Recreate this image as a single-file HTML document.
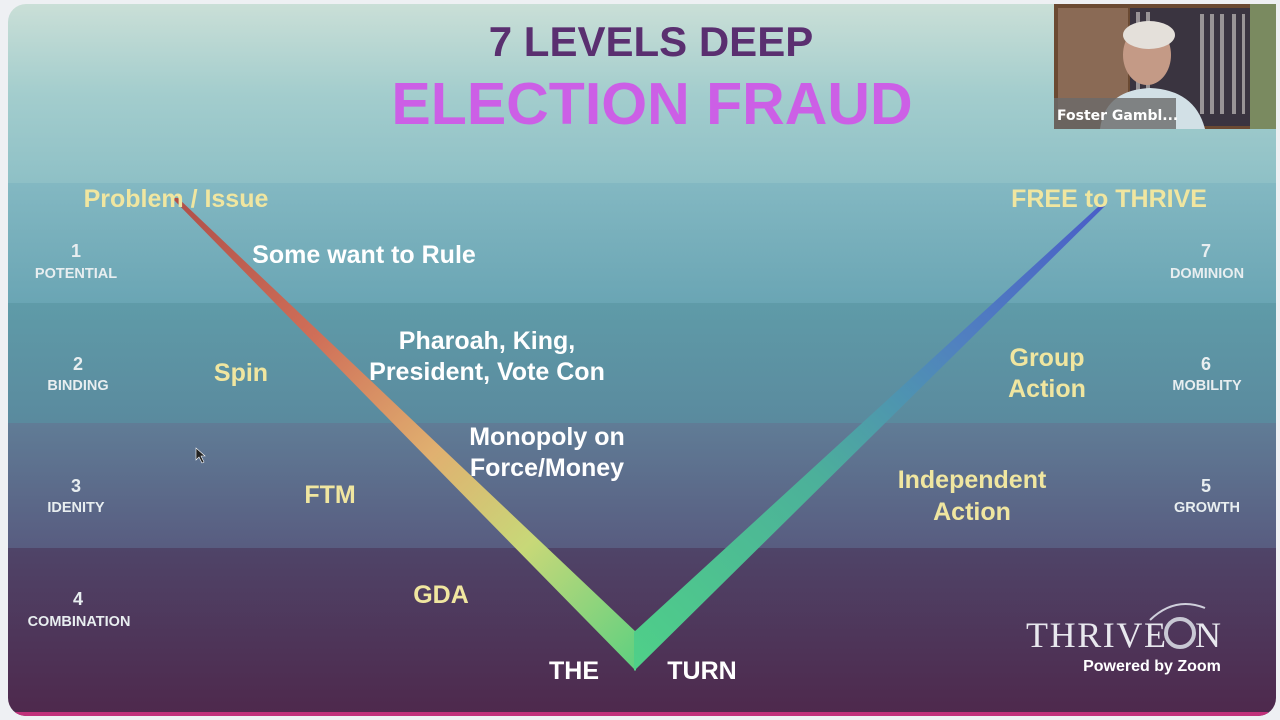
<!DOCTYPE html>
<html><head><meta charset="utf-8"><style>
html,body{margin:0;padding:0;width:1280px;height:720px;overflow:hidden;background:#eef0f3;font-family:"Liberation Sans",sans-serif;}
</style></head><body>
<svg width="1280" height="720" xmlns="http://www.w3.org/2000/svg" style="position:absolute;left:0;top:0">
<defs>
<linearGradient id="b0" x1="0" y1="0" x2="0" y2="1"><stop offset="0" stop-color="#cadfd7"/><stop offset="0.5" stop-color="#a3cdcd"/><stop offset="1" stop-color="#8ec0c6"/></linearGradient>
<linearGradient id="b1" x1="0" y1="0" x2="0" y2="1"><stop offset="0" stop-color="#83b8c2"/><stop offset="1" stop-color="#6aa5b4"/></linearGradient>
<linearGradient id="b2" x1="0" y1="0" x2="0" y2="1"><stop offset="0" stop-color="#5f9ba8"/><stop offset="1" stop-color="#5a8a9e"/></linearGradient>
<linearGradient id="b3" x1="0" y1="0" x2="0" y2="1"><stop offset="0" stop-color="#607c96"/><stop offset="1" stop-color="#585c80"/></linearGradient>
<linearGradient id="b4" x1="0" y1="0" x2="0" y2="1"><stop offset="0" stop-color="#4f4468"/><stop offset="1" stop-color="#4e284c"/></linearGradient>
<linearGradient id="gl" gradientUnits="userSpaceOnUse" x1="175" y1="198" x2="635" y2="670"><stop offset="0" stop-color="#b0504a"/><stop offset="0.3" stop-color="#cf6f58"/><stop offset="0.55" stop-color="#e0b070"/><stop offset="0.75" stop-color="#c8d878"/><stop offset="1" stop-color="#5ed080"/></linearGradient>
<linearGradient id="gr" gradientUnits="userSpaceOnUse" x1="635" y1="670" x2="1103" y2="205"><stop offset="0" stop-color="#4fd088"/><stop offset="0.4" stop-color="#4cb09a"/><stop offset="0.7" stop-color="#5080c0"/><stop offset="1" stop-color="#4a5ec8"/></linearGradient>
<clipPath id="c"><rect x="8" y="4" width="1268" height="712" rx="18"/></clipPath>
</defs>
<g clip-path="url(#c)">
<rect x="8" y="4" width="1268" height="180" fill="url(#b0)"/>
<rect x="8" y="183" width="1268" height="121" fill="url(#b1)"/>
<rect x="8" y="303" width="1268" height="121" fill="url(#b2)"/>
<rect x="8" y="423" width="1268" height="126" fill="url(#b3)"/>
<rect x="8" y="548" width="1268" height="170" fill="url(#b4)"/>
<rect x="8" y="712" width="1260" height="6" fill="#c0307a"/>
</g>
<polygon points="172,198 178,198 636,632 636,671" fill="url(#gl)"/>
<polygon points="634,671 634,632 1099,206 1105,206" fill="url(#gr)"/>
<g font-weight="bold" text-anchor="middle">
<text x="651" y="56" font-size="42" fill="#5a2f70">7 LEVELS DEEP</text>
<text x="652" y="124" font-size="59" fill="#cc5fe6">ELECTION FRAUD</text>
<g fill="#f0e6a0" font-size="25">
<text x="176" y="207">Problem / Issue</text>
<text x="1109" y="207">FREE to THRIVE</text>
<text x="241" y="381">Spin</text>
<text x="330" y="503">FTM</text>
<text x="441" y="603">GDA</text>
<text x="1047" y="366">Group</text><text x="1047" y="397">Action</text>
<text x="972" y="488">Independent</text><text x="972" y="520">Action</text>
</g>
<g fill="#ffffff" font-size="25">
<text x="364" y="263">Some want to Rule</text>
<text x="487" y="349">Pharoah, King,</text>
<text x="487" y="380">President, Vote Con</text>
<text x="547" y="445">Monopoly on</text>
<text x="547" y="476">Force/Money</text>
<text x="574" y="679">THE</text>
<text x="702" y="679">TURN</text>
</g>
<g fill="#e8eef0" font-size="18">
<text x="76" y="257">1</text><text x="78" y="370">2</text><text x="76" y="492">3</text><text x="78" y="605">4</text>
<text x="1206" y="257">7</text><text x="1206" y="370">6</text><text x="1206" y="492">5</text>
</g>
<g fill="#e8eef0" font-size="14.5">
<text x="76" y="278">POTENTIAL</text><text x="78" y="390">BINDING</text><text x="76" y="512">IDENITY</text><text x="79" y="626">COMBINATION</text>
<text x="1207" y="278">DOMINION</text><text x="1207" y="390">MOBILITY</text><text x="1207" y="512">GROWTH</text>
</g>
<text x="1152" y="671" font-size="16" fill="#ffffff">Powered by Zoom</text>
</g>
<text x="1026" y="647" font-family="Liberation Serif,serif" font-size="36" fill="#e8e8ee" textLength="140">THRIVE</text>
<circle cx="1180" cy="633" r="14" fill="none" stroke="#c8c8d4" stroke-width="4"/>
<path d="M1150,620 Q1175,596 1205,608" fill="none" stroke="#d0d0dc" stroke-width="2"/>
<text x="1195" y="647" font-family="Liberation Serif,serif" font-size="36" fill="#e8e8ee">N</text>
<polygon points="196,448 196,460 199,457 202,463 204,462 201,456 205,456" fill="#222" stroke="#fff" stroke-width="0.6"/>
<!-- video -->
<rect x="1054" y="4" width="206" height="125" fill="#6b4a32"/>
<rect x="1058" y="8" width="70" height="110" fill="#8a6a55"/>
<rect x="1130" y="8" width="120" height="118" fill="#3a3440"/>
<g fill="#d8d4d0" opacity="0.6">
<rect x="1200" y="14" width="4" height="100"/><rect x="1210" y="14" width="4" height="100"/><rect x="1220" y="14" width="4" height="100"/><rect x="1232" y="14" width="4" height="100"/><rect x="1242" y="14" width="3" height="100"/>
<rect x="1136" y="12" width="4" height="80"/><rect x="1146" y="12" width="4" height="80"/>
</g>
<ellipse cx="1147" cy="55" rx="24" ry="30" fill="#c49a86"/>
<ellipse cx="1149" cy="35" rx="26" ry="14" fill="#e4e0da"/>
<path d="M1100,129 Q1105,90 1150,88 Q1195,90 1205,129 Z" fill="#d2e0e6"/>
<rect x="1054" y="98" width="122" height="31" fill="#6a6a6a" opacity="0.8"/>
<text x="1057" y="120" font-size="14" font-weight="bold" fill="#fff" font-family="DejaVu Sans,sans-serif">Foster Gambl...</text>
<rect x="1250" y="4" width="26" height="125" fill="#7a8a60"/>
</svg>
</body></html>
